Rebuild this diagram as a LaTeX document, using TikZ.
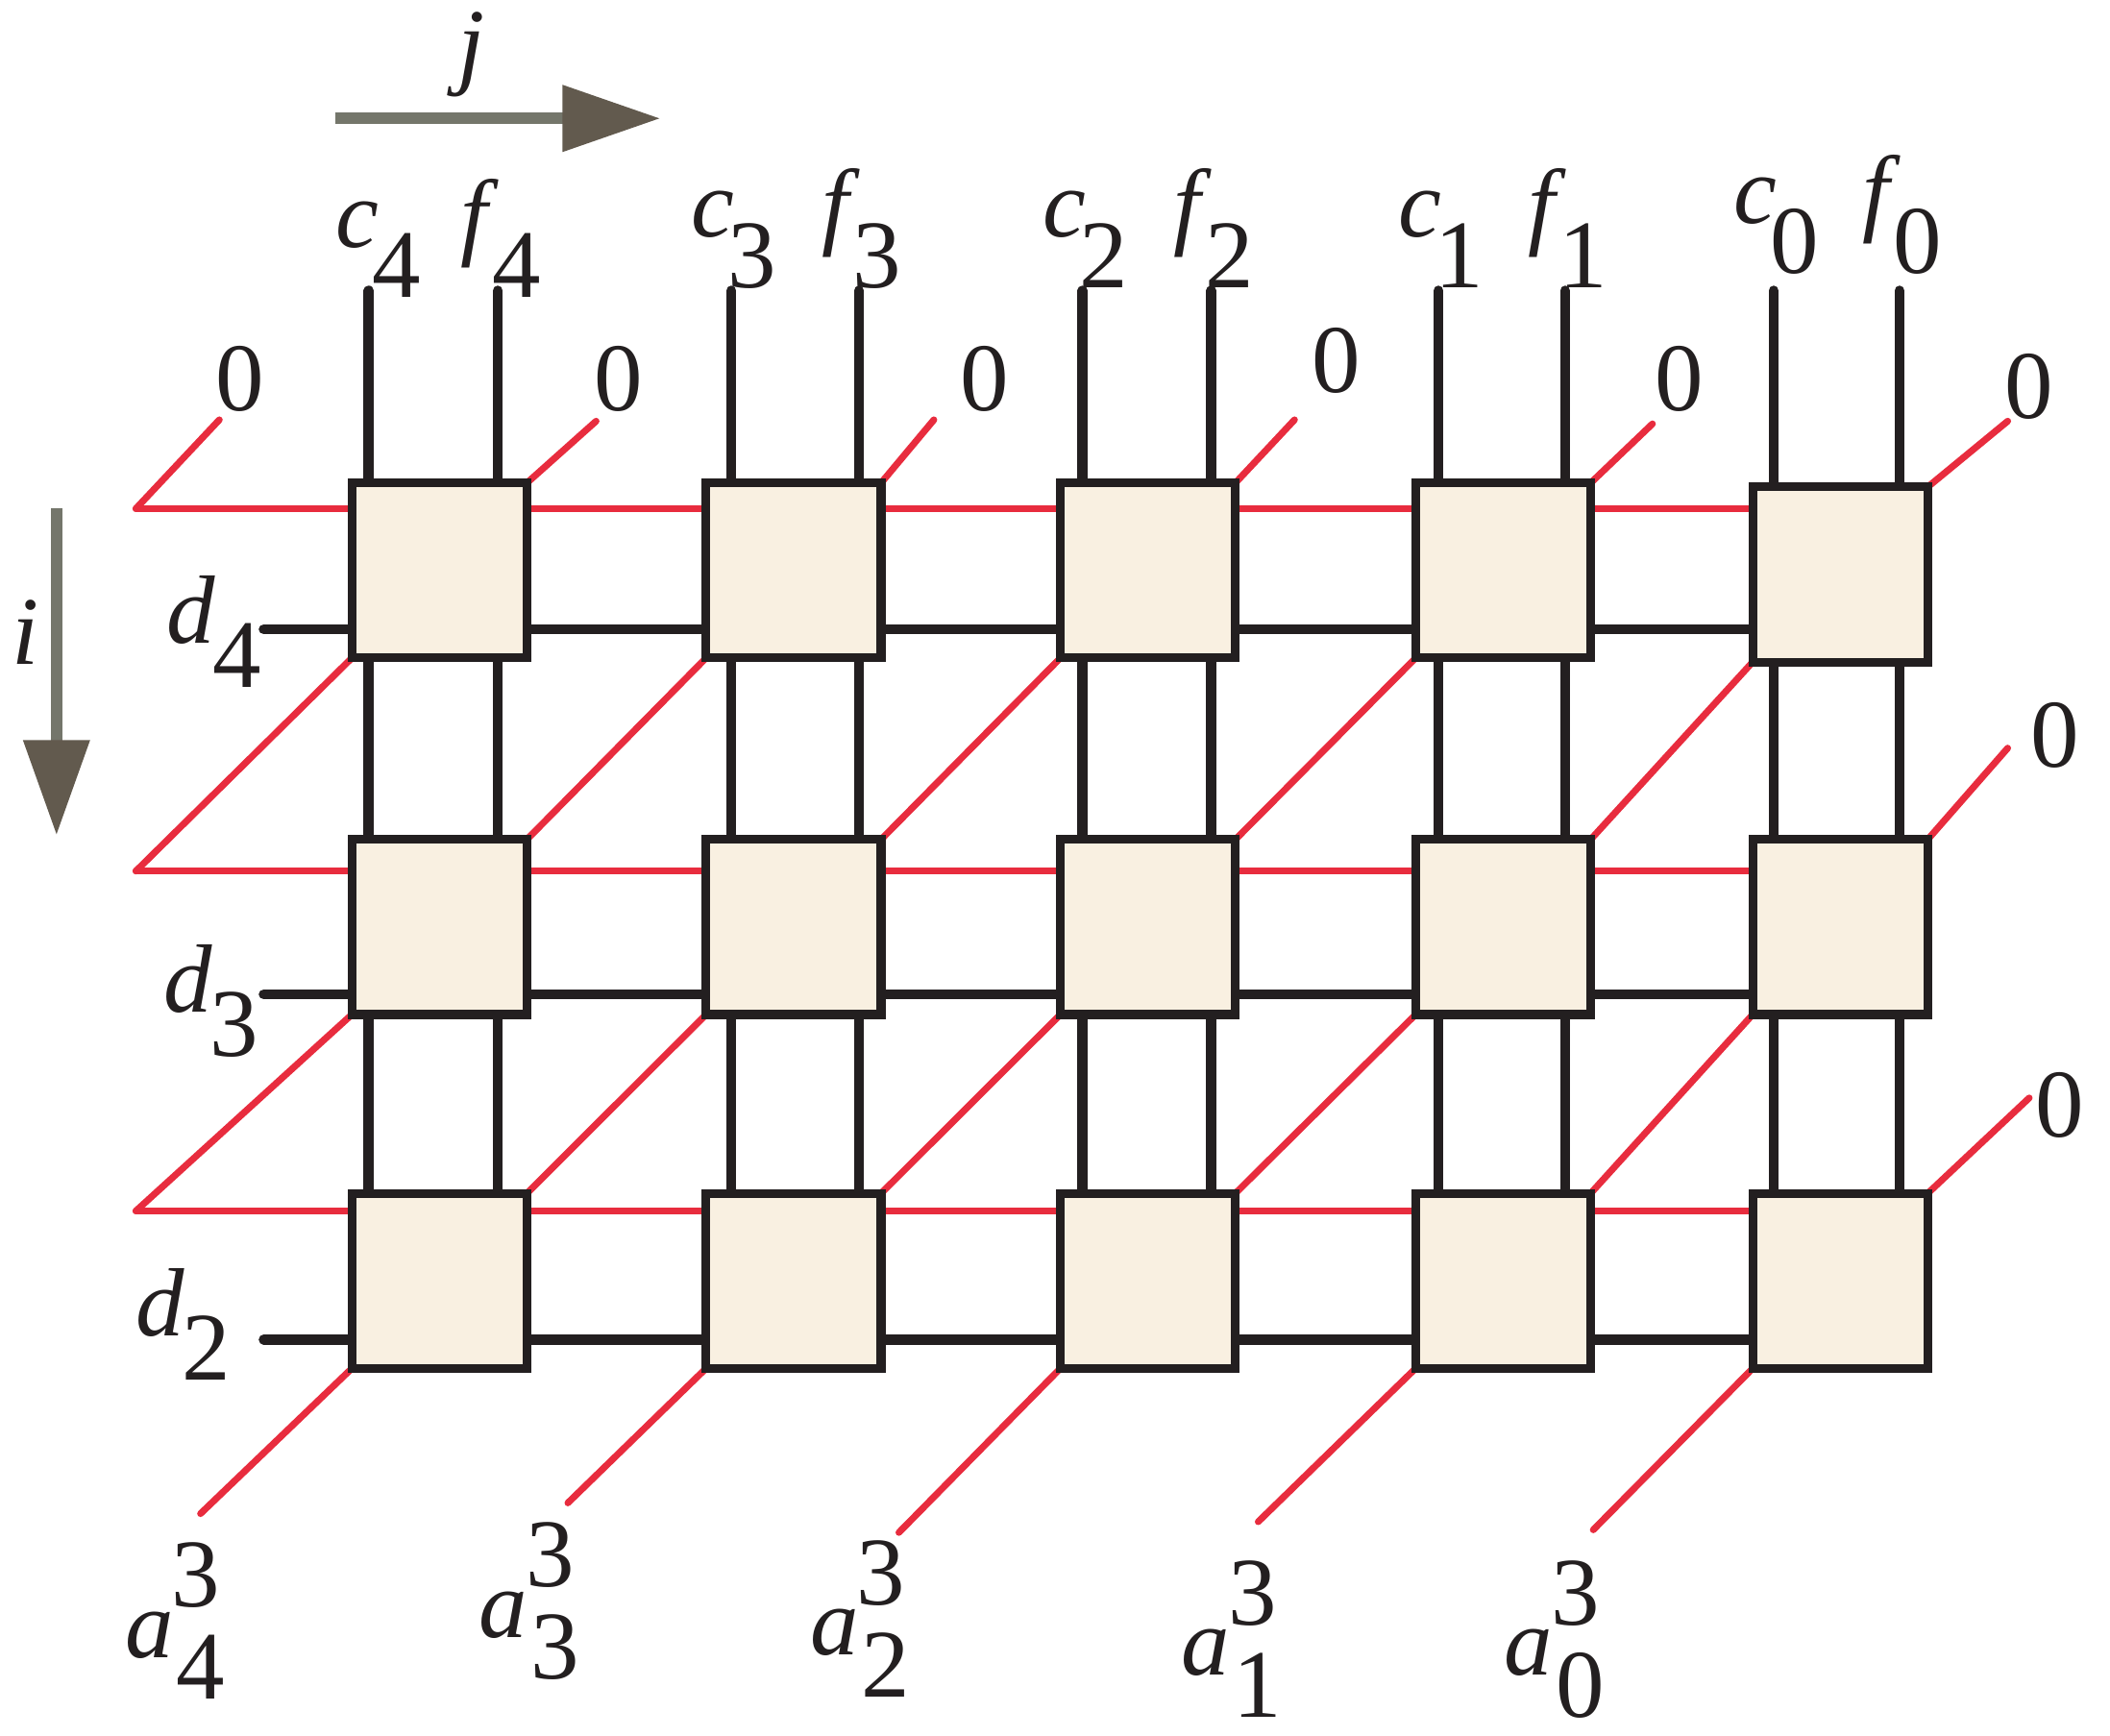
\documentclass[tikz,border=0pt]{standalone}
\usepackage{fontspec}
\setmainfont{Liberation Serif}
\usetikzlibrary{backgrounds}
\definecolor{redl}{RGB}{232,44,62}
\definecolor{boxfill}{RGB}{249,240,225}
\definecolor{ink}{RGB}{35,31,32}
\definecolor{arrshaft}{RGB}{116,118,107}
\definecolor{arrhead}{RGB}{98,90,78}
\newcommand{\sublab}[2]{\textit{#1}\kern-0.07em\raisebox{-0.52em}{#2}}
\newcommand{\dlab}[2]{\textit{d}\kern-0.03em\raisebox{-0.46em}{#2}}
\newcommand{\alab}[1]{\textit{a}\kern-0.02em\rlap{\raisebox{0.52em}{3}}\kern0.05em\raisebox{-0.43em}{#1}}
\begin{document}
\begin{tikzpicture}[x=0.01cm,y=-0.01cm,
  cell/.style={draw=ink,fill=boxfill,line width=0.065cm,minimum width=1.30cm,minimum height=1.30cm,inner sep=0pt,outer sep=0pt},
  vline/.style={draw=ink,line width=0.075cm,line cap=round},
  dline/.style={draw=ink,line width=0.075cm,line cap=round},
  rline/.style={draw=redl,line width=0.05cm,line cap=round},
  lab/.style={inner sep=0pt,outer sep=0pt,font=\fontsize{20.5}{21}\selectfont,text=ink},
  shaft/.style={draw=arrshaft,line width=0.085cm},
  head/.style={fill=arrhead}
]
\useasboundingbox (0,0) rectangle (1568,1290);

% boxes
\node[cell] (b00) at (326.5,424) {};
\node[cell] (b01) at (589.7,424) {};
\node[cell] (b02) at (853,424) {};
\node[cell] (b03) at (1117,424) {};
\node[cell] (b04) at (1367.5,427) {};
\node[cell] (b10) at (326.5,689) {};
\node[cell] (b11) at (589.7,689) {};
\node[cell] (b12) at (853,689) {};
\node[cell] (b13) at (1117,689) {};
\node[cell] (b14) at (1367.5,689) {};
\node[cell] (b20) at (326.5,952) {};
\node[cell] (b21) at (589.7,952) {};
\node[cell] (b22) at (853,952) {};
\node[cell] (b23) at (1117,952) {};
\node[cell] (b24) at (1367.5,952) {};

% coordinates
\coordinate (v0c) at (274,216);   \coordinate (v0f) at (370,216);
\coordinate (v1c) at (543.5,216); \coordinate (v1f) at (638.3,216);
\coordinate (v2c) at (804.5,216); \coordinate (v2f) at (900,216);
\coordinate (v3c) at (1069,216);  \coordinate (v3f) at (1163,216);
\coordinate (v4c) at (1318,216);  \coordinate (v4f) at (1411.5,216);
\coordinate (h0) at (101,378);
\coordinate (h1) at (101,647.4);
\coordinate (h2) at (101,900);
\coordinate (d0) at (196,467.7);
\coordinate (d1) at (196,739);
\coordinate (d2) at (196,995.6);
\coordinate (tl) at (163,312);
\coordinate (t0) at (443,313);
\coordinate (t1) at (694,312);
\coordinate (t2) at (962,312);
\coordinate (t3) at (1228,315);
\coordinate (t4) at (1492,313);
\coordinate (r1) at (1492,556);
\coordinate (r2) at (1508,816);
\coordinate (e0) at (149,1125);
\coordinate (e1) at (422,1117);
\coordinate (e2) at (668,1139);
\coordinate (e3) at (935,1131);
\coordinate (e4) at (1184,1137);

\begin{scope}[on background layer]
  % vertical c/f lines
  \foreach \c in {0,...,4} {
    \foreach \s in {c,f} {
      \draw[vline] (v\c\s) -- (v\c\s |- b0\c.north);
      \draw[vline] (v\c\s |- b0\c.south) -- (v\c\s |- b1\c.north);
      \draw[vline] (v\c\s |- b1\c.south) -- (v\c\s |- b2\c.north);
    }
  }
  % black d lines
  \draw[dline] (d0) -- (d0 -| b04.west);
  \draw[dline] (d1) -- (d1 -| b14.west);
  \draw[dline] (d2) -- (d2 -| b24.west);
  % red horizontal lines
  \draw[rline] (h0) -- (h0 -| b04.west);
  \draw[rline] (h1) -- (h1 -| b14.west);
  \draw[rline] (h2) -- (h2 -| b24.west);
  % red diagonals between cells
  \foreach \r/\rn in {0/1,1/2} {
    \foreach \c/\cp in {1/0,2/1,3/2,4/3} {
      \draw[rline] (b\r\c.south west) -- (b\rn\cp.north east);
    }
  }
  \draw[rline] (b00.south west) -- (h1);
  \draw[rline] (b10.south west) -- (h2);
  \draw[rline] (h0) -- (tl);
  \draw[rline] (b00.north east) -- (t0);
  \draw[rline] (b01.north east) -- (t1);
  \draw[rline] (b02.north east) -- (t2);
  \draw[rline] (b03.north east) -- (t3);
  \draw[rline] (b04.north east) -- (t4);
  \draw[rline] (b14.north east) -- (r1);
  \draw[rline] (b24.north east) -- (r2);
  \draw[rline] (b20.south west) -- (e0);
  \draw[rline] (b21.south west) -- (e1);
  \draw[rline] (b22.south west) -- (e2);
  \draw[rline] (b23.south west) -- (e3);
  \draw[rline] (b24.south west) -- (e4);
\end{scope}

% zero labels
\node[lab,anchor=base] (zl) at (178,305) {0};
\node[lab,anchor=base] (z0) at (460,305) {0};
\node[lab,anchor=base] (z1) at (732,305) {0};
\node[lab,anchor=base] (z2) at (993,292) {0};
\node[lab,anchor=base] (z3) at (1248,305) {0};
\node[lab,anchor=base] (z4) at (1508,311) {0};
\node[lab,anchor=base] (zr1) at (1527,570) {0};
\node[lab,anchor=base] (zr2) at (1531,845) {0};

% top labels
\node[lab,anchor=base] (lc4) at (281,183.5) {\sublab{c}{4}};
\node[lab,anchor=base] (lf4) at (372,183.5) {\sublab{f}{4}};
\node[lab,anchor=base] (lc3) at (545.5,176) {\sublab{c}{3}};
\node[lab,anchor=base] (lf3) at (640.3,176) {\sublab{f}{3}};
\node[lab,anchor=base] (lc2) at (806.5,176) {\sublab{c}{2}};
\node[lab,anchor=base] (lf2) at (902,176) {\sublab{f}{2}};
\node[lab,anchor=base] (lc1) at (1071,176) {\sublab{c}{1}};
\node[lab,anchor=base] (lf1) at (1165,176) {\sublab{f}{1}};
\node[lab,anchor=base] (lc0) at (1320,166) {\sublab{c}{0}};
\node[lab,anchor=base] (lf0) at (1413.5,166) {\sublab{f}{0}};

% d labels
\node[lab,anchor=base east] (ld4) at (194,478) {\dlab{d}{4}};
\node[lab,anchor=base east] (ld3) at (192,752) {\dlab{d}{3}};
\node[lab,anchor=base east] (ld2) at (171,992.5) {\dlab{d}{2}};

% a labels
\node[lab,anchor=base west] (la4) at (93,1232) {\alab{4}};
\node[lab,anchor=base west] (la3) at (356,1217) {\alab{3}};
\node[lab,anchor=base west] (la2) at (602,1230) {\alab{2}};
\node[lab,anchor=base west] (la1) at (878,1245) {\alab{1}};
\node[lab,anchor=base west] (la0) at (1118,1245) {\alab{0}};

% direction arrows
\coordinate (ja) at (249,88);
\coordinate (jb) at (422,88);
\coordinate (jtip) at (490,88);
\draw[shaft] (ja) -- (jb);
\fill[head] (jtip) ++(-72,-25) -- (jtip) -- ++(-72,25) -- cycle;
\node[lab,anchor=base] (lj) at (350,57) {\textit{j}};

\coordinate (ia) at (42,378);
\coordinate (ib) at (42,552);
\coordinate (itip) at (42,620);
\draw[shaft] (ia) -- (ib);
\fill[head] (itip) ++(-25,-70) -- (itip) -- ++(25,-70) -- cycle;
\node[lab,anchor=base] (li) at (19,494) {\textit{i}};
\end{tikzpicture}
\end{document}
